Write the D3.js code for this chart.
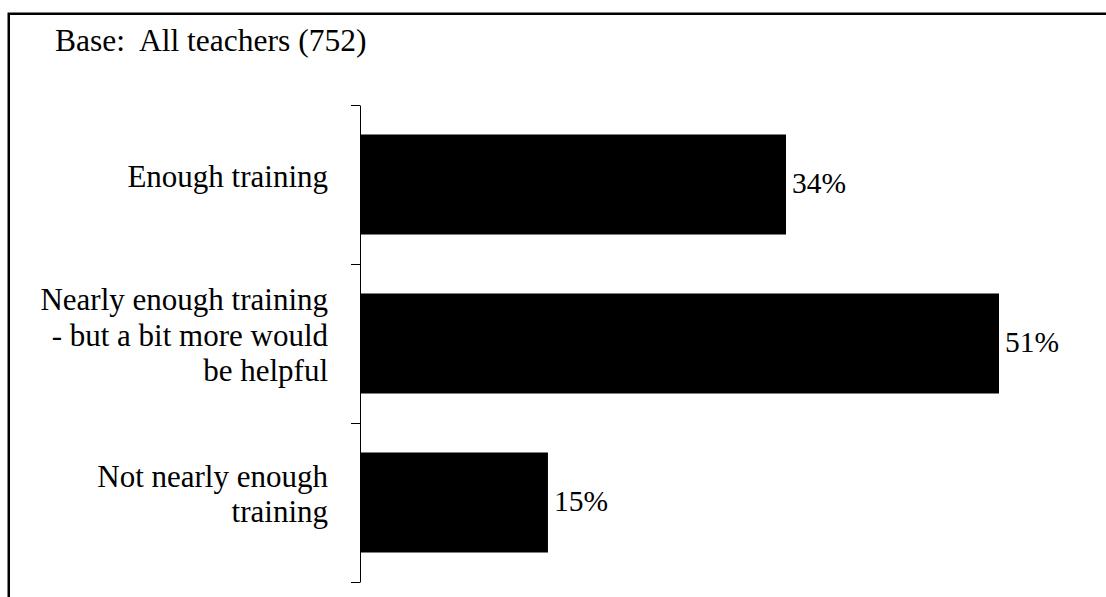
<!DOCTYPE html>
<html>
<head>
<meta charset="utf-8">
<script src="https://cdn.jsdelivr.net/npm/d3@7"></script>
<style>
  body { margin: 0; background: #fff; }
</style>
</head>
<body>
<div id="chart"></div>
<script>
// Data
let categories = [
  ['Enough training'],
  ['Nearly enough training', '- but a bit more would', 'be helpful'],
  ['Not nearly enough', 'training']
];
let values = [34, 51, 15];
let baseNote = 'Base:  All teachers (752)';

// Dimensions
let W = 1106, H = 597;
let axisX = 360;
let plotTop = 105, plotBottom = 582;
let serif = "'Liberation Serif', 'Times New Roman', Times, 'DejaVu Serif', serif";

// Scales
let y = d3.scaleBand()
  .domain(d3.range(values.length))
  .range([plotTop, plotBottom])
  .paddingInner(0.371)
  .paddingOuter(0.1855);
let x = d3.scaleLinear()
  .domain([0, d3.max(values)])
  .range([axisX, 999]);
// tick marks sit on the band boundaries
let yTicks = d3.scaleLinear()
  .domain([0, values.length])
  .range([plotTop, plotBottom]);

// SVG
let svg = d3.select('#chart')
  .append('svg')
  .attr('width', W)
  .attr('height', H)
  .attr('font-family', serif)
  .style('font-family', serif);

// Frame
svg.append('rect')
  .attr('x', 8.75)
  .attr('y', 13.75)
  .attr('width', 1200)
  .attr('height', 700)
  .attr('fill', 'none')
  .attr('stroke', '#000')
  .attr('stroke-width', 2.5);

svg.append('text')
  .attr('x', 55)
  .attr('y', 51)
  .style('font-size', '31.5px')
  .style('white-space', 'pre')
  .text(baseNote);

// Bars
svg.selectAll('.bar')
  .data(values)
  .enter()
  .append('rect')
  .attr('class', 'bar')
  .attr('x', x(0))
  .attr('y', (d, i) => y(i))
  .attr('width', d => x(d) - x(0))
  .attr('height', y.bandwidth())
  .attr('fill', '#000');

// Value labels
svg.selectAll('.val')
  .data(values)
  .enter()
  .append('text')
  .attr('class', 'val')
  .attr('x', d => x(d) + 6)
  .attr('y', (d, i) => y(i) + y.bandwidth() / 2 + 8.5)
  .style('font-size', '29.5px')
  .text(d => d + '%');

// Axis
svg.append('g')
  .attr('transform', `translate(${axisX},0)`)
  .call(d3.axisLeft(yTicks)
    .tickValues(d3.range(values.length + 1))
    .tickSize(9)
    .tickSizeOuter(0)
    .tickFormat(''))
  .call(g => g.selectAll('path, line').attr('stroke', '#000').attr('stroke-width', 1));

// Category labels
let lh = 35.5;
let labels = svg.selectAll('.cat')
  .data(categories)
  .enter()
  .append('text')
  .attr('class', 'cat')
  .attr('text-anchor', 'end')
  .style('font-size', '31px');
labels.each(function(lines, i) {
  let cy = y(i) + y.bandwidth() / 2 + 2 - (lines.length - 1) * lh / 2;
  d3.select(this).selectAll('tspan')
    .data(lines)
    .enter()
    .append('tspan')
    .attr('x', 328)
    .attr('y', (d, j) => cy + j * lh)
    .text(d => d);
});
</script>
</body>
</html>
